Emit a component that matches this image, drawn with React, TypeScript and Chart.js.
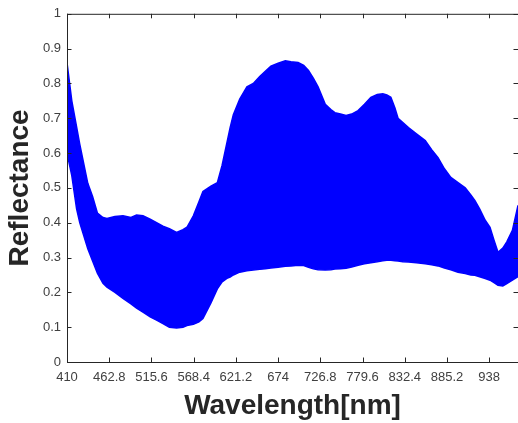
import React, { useEffect, useRef } from "react";
import { Chart, registerables } from "chart.js";

Chart.register(...registerables);

const wavelengths = [
  410, 416, 422, 426, 436, 442, 448, 455, 460, 470, 480, 490, 497, 505, 514, 522, 530, 538, 547, 555,
  560, 568, 575, 580, 590, 598, 604, 610, 614, 618, 626, 635, 643, 651, 658, 665, 674, 683, 690, 699,
  706, 712, 718, 724, 733, 740, 745, 752, 759, 766, 774, 782, 790, 798, 805, 810, 815, 820, 824, 830,
  837, 847, 858, 866, 874, 882, 890, 899, 908, 915, 920, 926, 933, 939, 944, 949, 955, 960, 967, 974,
];

const upperEnvelope = [
  0.86, 0.75, 0.675, 0.625, 0.513, 0.475, 0.428, 0.415, 0.412, 0.418, 0.42, 0.415, 0.422, 0.42, 0.41, 0.4, 0.39, 0.383, 0.372, 0.38,
  0.387, 0.42, 0.46, 0.49, 0.505, 0.515, 0.565, 0.63, 0.673, 0.71, 0.755, 0.79, 0.8, 0.82, 0.835, 0.85, 0.858, 0.865, 0.862, 0.86,
  0.852, 0.837, 0.815, 0.79, 0.74, 0.725, 0.716, 0.712, 0.708, 0.712, 0.722, 0.74, 0.76, 0.768, 0.77, 0.767, 0.76, 0.73, 0.7, 0.688,
  0.673, 0.655, 0.636, 0.61, 0.587, 0.555, 0.53, 0.515, 0.5, 0.48, 0.464, 0.44, 0.407, 0.387, 0.35, 0.315, 0.327, 0.345, 0.378, 0.45,
];

const lowerEnvelope = [
  0.6, 0.535, 0.44, 0.4, 0.325, 0.29, 0.255, 0.226, 0.215, 0.2, 0.183, 0.167, 0.155, 0.143, 0.13, 0.12, 0.11, 0.1, 0.098, 0.1,
  0.105, 0.108, 0.115, 0.125, 0.17, 0.21, 0.23, 0.24, 0.244, 0.25, 0.258, 0.262, 0.264, 0.266, 0.268, 0.27, 0.272, 0.275, 0.276, 0.278,
  0.277, 0.272, 0.268, 0.265, 0.264, 0.265, 0.267, 0.268, 0.269, 0.273, 0.278, 0.282, 0.285, 0.288, 0.291, 0.292, 0.292, 0.291, 0.29, 0.288,
  0.287, 0.285, 0.282, 0.279, 0.276, 0.27, 0.265, 0.258, 0.254, 0.25, 0.249, 0.245, 0.24, 0.235, 0.228, 0.22, 0.218, 0.225, 0.235, 0.245,
];

const xTicks = [410, 462.8, 515.6, 568.4, 621.2, 674, 726.8, 779.6, 832.4, 885.2, 938];
const yTicks = [0, 0.1, 0.2, 0.3, 0.4, 0.5, 0.6, 0.7, 0.8, 0.9, 1];

const AXIS_COLOR = "#262626";
const TEXT_COLOR = "#404040";
const FONT = "'Liberation Sans', Arial, sans-serif";

const boxPlugin = {
  id: "matlabBox",
  afterDraw(chart: any) {
    const { ctx, chartArea } = chart;
    const { left, right, top, bottom } = chartArea;
    const xs = chart.scales.x;
    const ys = chart.scales.y;
    const len = 4.5;
    ctx.save();
    ctx.strokeStyle = AXIS_COLOR;
    ctx.lineWidth = 1;
    ctx.beginPath();
    ctx.moveTo(left + 0.5, top + 0.5);
    ctx.lineTo(right + 0.5, top + 0.5);
    ctx.moveTo(left + 0.5, top);
    ctx.lineTo(left + 0.5, bottom + 0.5);
    ctx.lineTo(right + 0.5, bottom + 0.5);
    ctx.moveTo(right + 0.5, top);
    ctx.lineTo(right + 0.5, bottom + 0.5);
    xTicks.forEach((v) => {
      const px = Math.round(xs.getPixelForValue(v)) + 0.5;
      ctx.moveTo(px, bottom);
      ctx.lineTo(px, bottom - len);
      ctx.moveTo(px, top);
      ctx.lineTo(px, top + len);
    });
    yTicks.forEach((v) => {
      const py = Math.round(ys.getPixelForValue(v)) + 0.5;
      ctx.moveTo(left, py);
      ctx.lineTo(left + len, py);
      ctx.moveTo(right, py);
      ctx.lineTo(right - len, py);
    });
    ctx.stroke();
    ctx.restore();
  },
};

export default function App() {
  const canvasRef = useRef<HTMLCanvasElement | null>(null);

  useEffect(() => {
    document.body.style.margin = "0";
    const canvas = canvasRef.current;
    if (!canvas) return;
    const lower = wavelengths.map((w, i) => ({ x: w, y: lowerEnvelope[i] }));
    const upper = wavelengths.map((w, i) => ({ x: w, y: upperEnvelope[i] }));
    const chart = new Chart(canvas, {
      type: "line",
      data: {
        datasets: [
          {
            data: lower,
            borderColor: "#0000ff",
            borderWidth: 1.5,
            pointRadius: 0,
            fill: false,
            tension: 0,
          },
          {
            data: upper,
            borderColor: "#0000ff",
            backgroundColor: "#0000ff",
            borderWidth: 1.5,
            pointRadius: 0,
            fill: "-1",
            tension: 0,
          },
        ],
      },
      options: {
        responsive: false,
        animation: false,
        layout: { padding: { top: 13, right: 0, left: 0, bottom: 0 } },
        plugins: { legend: { display: false }, tooltip: { enabled: false } },
        scales: {
          x: {
            type: "linear",
            min: 410,
            max: 974,
            afterBuildTicks: (s: any) => {
              s.ticks = xTicks.map((v) => ({ value: v }));
            },
            afterFit: (s: any) => {
              s.height = 61;
            },
            grid: { display: false, drawTicks: false },
            border: { display: false },
            ticks: {
              autoSkip: false,
              maxRotation: 0,
              padding: 8,
              color: TEXT_COLOR,
              font: { family: FONT, size: 13 },
              callback: (v: any) => String(v),
            },
            title: {
              display: true,
              text: "Wavelength[nm]",
              color: AXIS_COLOR,
              font: { family: FONT, size: 28, weight: "bold" },
              padding: { top: 0, bottom: 0 },
            },
          },
          y: {
            type: "linear",
            min: 0,
            max: 1,
            afterBuildTicks: (s: any) => {
              s.ticks = yTicks.map((v) => ({ value: v }));
            },
            afterFit: (s: any) => {
              s.width = 67;
            },
            grid: { display: false, drawTicks: false },
            border: { display: false },
            ticks: {
              padding: 6,
              color: TEXT_COLOR,
              font: { family: FONT, size: 13 },
              callback: (v: any) => String(Number(Number(v).toFixed(1))),
            },
            title: {
              display: true,
              text: "Reflectance",
              color: AXIS_COLOR,
              font: { family: FONT, size: 28, weight: "bold" },
              padding: { top: 3, bottom: 0 },
            },
          },
        },
      },
      plugins: [boxPlugin],
    });
    return () => chart.destroy();
  }, []);

  return (
    <div style={{ position: "absolute", left: 0, top: 0, width: 518, height: 423, overflow: "hidden", background: "#fff" }}>
      <canvas ref={canvasRef} width={518} height={423} style={{ display: "block", width: 518, height: 423 }} />
    </div>
  );
}
